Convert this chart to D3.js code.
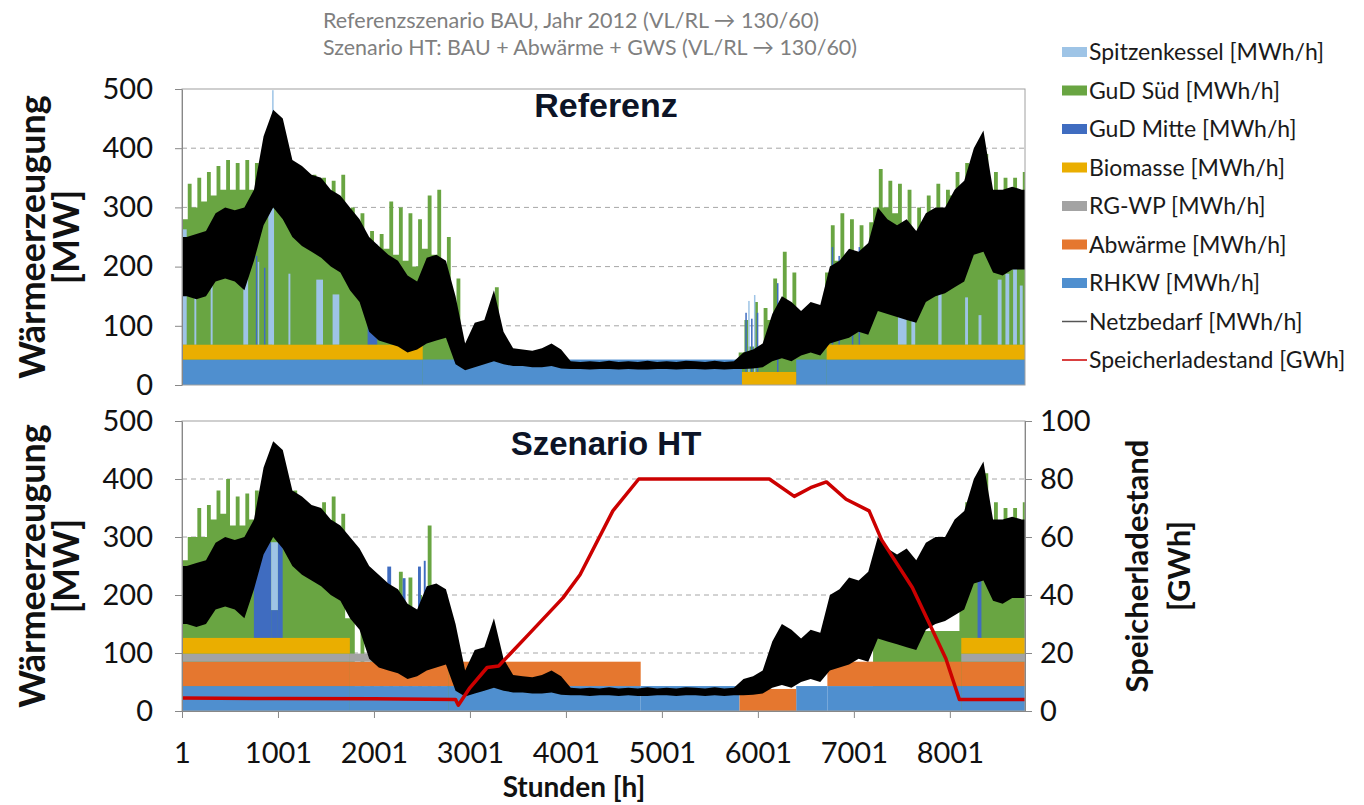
<!DOCTYPE html>
<html>
<head>
<meta charset="utf-8">
<script src="https://cdn.jsdelivr.net/npm/d3@7"></script>
<style>
  body { margin: 0; background: #fff; }
  svg text { font-family: Lato, "Open Sans", sans-serif; }
</style>
</head>
<body>
<svg id="chart" width="1364" height="805"></svg>
<script>
// hours of the year 2012, data read in 100 h windows (window i = hours 1+100i .. 100+100i)
const H_MAX = 8784;
const STEP = 100;

// Netzbedarf, lower / upper edge of the hourly band per window [MW]
const demandLo = [
  150,145,150,175,180,175,160,210,270,300,
  280,250,235,225,215,200,190,160,140,90,
  75,70,65,55,60,70,75,80,35,25,
  30,35,40,35,32,32,30,30,32,28,
  27,27,26,27,27,26,27,26,26,27,
  27,26,27,27,26,27,26,27,27,28,
  30,40,45,40,50,55,50,70,75,80,
  90,85,125,120,115,110,105,140,150,155,
  165,175,220,225,190,185,195,195];
const demandHi = [
  250,255,260,290,300,295,300,330,420,465,
  450,380,370,355,350,330,320,300,280,250,
  235,220,210,185,175,215,220,210,150,70,
  105,110,160,90,62,60,58,62,70,60,
  40,39,40,39,41,39,40,39,41,39,
  40,39,41,40,39,41,39,40,55,60,
  70,120,150,140,125,140,135,200,210,230,
  225,240,300,280,270,280,260,290,300,300,
  330,345,400,430,330,330,335,330];

// Referenz: total generation (top of GuD Süd), typical level and peak per window [MW]
const refTotMid = [
  280,300,310,320,330,330,330,330,340,350,
  340,320,310,300,300,290,280,230,220,200,
  200,230,220,210,200,230,220,180,100,50,
  55,60,75,40,0,0,0,0,0,0,
  0,0,0,0,0,0,0,0,0,0,
  0,0,0,0,0,0,0,0,55,65,
  64,110,120,110,60,60,60,190,210,200,
  200,210,300,300,290,270,250,270,290,280,
  320,330,330,330,310,300,300,300];
const refTotHi = [
  340,350,360,370,380,375,380,375,380,400,
  380,370,360,355,350,345,355,300,290,260,
  255,310,300,290,280,320,330,250,180,70,
  100,110,165,60,0,0,0,0,0,0,
  0,0,0,0,0,0,0,0,0,0,
  0,0,0,0,0,0,0,0,110,140,
  130,180,225,190,100,110,100,270,290,280,
  270,275,365,345,340,330,300,320,340,330,
  360,375,380,390,360,350,350,360];

// Szenario HT: total generation, typical level and peak per window [MW]
const htTotMid = [
  260,300,300,330,340,320,320,330,340,360,
  340,330,310,300,300,300,280,160,0,0,
  0,0,0,0,0,0,0,0,0,0,
  0,0,0,0,0,0,0,0,0,0,
  0,0,0,0,0,0,0,0,0,0,
  0,0,0,0,0,0,0,0,0,0,
  0,0,0,0,0,0,0,0,0,0,
  0,0,138,138,138,138,138,138,138,138,
  138,320,340,350,320,310,300,310];
const htTotHi = [
  300,350,355,380,400,370,375,380,400,420,
  400,380,360,350,360,370,340,250,180,150,
  140,170,240,230,200,320,200,150,0,0,
  0,0,0,0,0,0,0,0,0,0,
  0,0,0,0,0,0,0,0,0,0,
  0,0,0,0,0,0,0,0,0,0,
  0,0,0,0,0,0,0,0,0,0,
  0,0,138,138,138,138,138,138,138,138,
  138,360,400,410,360,350,350,360];

// constant blocks [from hour, to hour, MW]
const refRHKW     = [[1, 5835, 43], [6400, 8784, 43]];
const refBiomasse = [[1, 2509, 25], [5835, 6400, 22], [6718, 8784, 25]];
const htRHKW      = [[1, 5810, 43], [6400, 8784, 43]];
const htAbwaerme  = [[1, 4780, 42], [5810, 6400, 38], [6725, 8784, 42]];
const htRGWP      = [[1, 2780, 14], [8120, 8784, 14]];
const htBiomasse  = [[1, 1750, 27], [8120, 8784, 27]];

// short runs of GuD Mitte and Spitzenkessel [from hour, to hour, MW]
const refMitte = [[770,785,150],[855,870,130],[1935,2035,170],[5870,5880,100],[5930,5940,90],
                  [5990,6000,100],[6200,6215,150],[6770,6785,165],[6840,6855,150],[6980,6995,130],
                  [7050,7065,165]];
const refSpitzen = [[1,50,195],[130,150,130],[300,320,110],[640,690,170],[790,805,140],[900,960,230],
                    [940,955,430],[1110,1130,120],[1400,1470,110],[1570,1640,85],[2380,2400,60],
                    [5900,5915,120],[5960,5975,130],[7460,7550,110],[7600,7640,90],[7880,7915,110],
                    [8160,8190,80],[8300,8330,50],[8500,8540,110],[8580,8620,120],[8660,8700,130],
                    [8730,8760,100]];
const htMitte = [[750,930,165],[930,1000,48],[1000,1050,165],[2140,2180,150],[2300,2330,130],
                 [2460,2490,150],[2520,2540,160],[8290,8330,140]];
const htSpitzen = [[930,1000,117]];

// Speicherladestand [GWh]
const storageHour = [1,1000,2000,2850,2880,3000,3180,3300,3600,3970,4148,4490,4760,
                     6120,6380,6550,6715,6920,7160,7290,7610,7790,7960,8100,8784];
const storageGWh  = [4.5,4.3,4.2,4.0,2.0,8,15,15.5,26,39,47,69,80,
                     80,74,77,79,73,69,59,42.6,30,18,4,4];

const hourTicks = [1,1001,2001,3001,4001,5001,6001,7001,8001];

const C = {
  spitzen: '#9ec4e6', sued: '#69a542', mitte: '#3f6cc0', bio: '#eaae00',
  rgwp: '#a3a3a3', abw: '#e5772f', rhkw: '#4f8fcf', demand: '#000', storage: '#cc0000'
};

const legendItems = [
  { label: 'Spitzenkessel [MWh/h]', color: C.spitzen },
  { label: 'GuD Süd [MWh/h]', color: C.sued },
  { label: 'GuD Mitte [MWh/h]', color: C.mitte },
  { label: 'Biomasse [MWh/h]', color: C.bio },
  { label: 'RG-WP [MWh/h]', color: C.rgwp },
  { label: 'Abwärme [MWh/h]', color: C.abw },
  { label: 'RHKW [MWh/h]', color: C.rhkw },
  { label: 'Netzbedarf [MWh/h]', color: '#555', line: true },
  { label: 'Speicherladestand [GWh]', color: C.storage, line: true }
];

const svg = d3.select('#chart');
const x = d3.scaleLinear().domain([1, H_MAX]).range([182, 1025]);

function segValue(segs, h) {
  const s = segs.find(s => h >= s[0] && h < s[1]);
  return s ? s[2] : 0;
}

// two steps per window: typical level, then the peak
function comb(mid, hi) {
  const pts = [];
  mid.forEach((m, i) => {
    const h = 1 + i * STEP;
    pts.push({ h: h, v: m });
    pts.push({ h: h + 60, v: hi[i] });
  });
  pts.push({ h: H_MAX, v: mid[mid.length - 1] });
  return pts;
}

function drawPanel(cfg) {
  const y = cfg.y;
  const g = svg.append('g');
  const x0 = x.range()[0], x1 = x.range()[1];

  svg.append('clipPath').attr('id', 'clip-' + cfg.id)
    .append('rect').attr('x', x0).attr('y', y(500)).attr('width', x1 - x0).attr('height', y(0) - y(500));

  g.selectAll('line.grid').data([100, 200, 300, 400]).join('line')
    .attr('x1', x0).attr('x2', x1).attr('y1', d => y(d)).attr('y2', d => y(d))
    .attr('stroke', '#a6a6a6').attr('stroke-dasharray', '5,4');

  const plot = g.append('g').attr('clip-path', `url(#clip-${cfg.id})`);

  // GuD Süd (top of the stack above the fixed blocks)
  plot.append('path').datum(comb(cfg.totMid, cfg.totHi))
    .attr('fill', C.sued)
    .attr('d', d3.area().curve(d3.curveStepAfter)
      .x(d => x(d.h)).y0(y(0)).y1(d => y(d.v)));

  const baseAt = h => d3.sum(cfg.bands, b => segValue(b.segs, h));

  plot.selectAll('rect.mitte').data(cfg.mitte).join('rect')
    .attr('x', d => x(d[0])).attr('width', d => Math.max(1.5, x(d[1]) - x(d[0])))
    .attr('y', d => y(baseAt(d[0]) + d[2])).attr('height', d => y(0) - y(d[2]))
    .attr('fill', C.mitte);

  plot.selectAll('rect.spitzen').data(cfg.spitzen).join('rect')
    .attr('x', d => x(d[0])).attr('width', d => Math.max(1.5, x(d[1]) - x(d[0])))
    .attr('y', d => y(baseAt(d[0]) + segValue(cfg.mitte, d[0]) + d[2]))
    .attr('height', d => y(0) - y(d[2]))
    .attr('fill', C.spitzen);

  // fixed blocks, stacked
  const cuts = Array.from(new Set(cfg.bands.flatMap(b => b.segs.flatMap(s => [s[0], s[1]])).concat([1, H_MAX])))
    .sort((a, b) => a - b);
  const rows = cuts.slice(0, -1).map((h, i) => {
    const r = { h0: h, h1: cuts[i + 1] };
    cfg.bands.forEach(b => { r[b.key] = segValue(b.segs, h); });
    return r;
  });
  const stacked = d3.stack().keys(cfg.bands.map(b => b.key))(rows);
  plot.selectAll('g.band').data(stacked).join('g')
    .attr('fill', (d, i) => cfg.bands[i].color)
    .selectAll('rect').data(d => d.filter(p => p[1] > p[0])).join('rect')
    .attr('x', p => x(p.data.h0)).attr('width', p => x(p.data.h1) - x(p.data.h0))
    .attr('y', p => y(p[1])).attr('height', p => y(p[0]) - y(p[1]));

  // Netzbedarf: band between the low and high readings
  const dem = demandLo.map((lo, i) => ({ h: Math.min(H_MAX, 51 + i * STEP), lo: lo, hi: demandHi[i] }));
  dem.unshift({ h: 1, lo: demandLo[0], hi: demandHi[0] });
  dem.push({ h: H_MAX, lo: demandLo[demandLo.length - 1], hi: demandHi[demandHi.length - 1] });
  plot.append('path').datum(dem)
    .attr('fill', C.demand)
    .attr('d', d3.area().x(d => x(d.h)).y0(d => y(d.lo)).y1(d => y(d.hi)));

  // frame
  g.append('rect').attr('x', x0).attr('y', y(500)).attr('width', x1 - x0).attr('height', y(0) - y(500))
    .attr('fill', 'none').attr('stroke', '#a0a0a0');

  const ax = g.append('g').attr('transform', `translate(${x0},0)`)
    .call(d3.axisLeft(y).tickValues([0, 100, 200, 300, 400, 500]).tickSizeInner(7).tickSizeOuter(0).tickPadding(22));
  ax.select('.domain').attr('stroke', '#888');
  ax.selectAll('.tick line').attr('stroke', '#888');
  ax.selectAll('text').style('font-size', '29px').attr('fill', '#111');

  g.append('text').attr('x', 606).attr('y', cfg.titleY).attr('text-anchor', 'middle')
    .style('font-family', '"Liberation Sans", Arial, sans-serif').style('font-weight', 'bold')
    .style('font-size', cfg.titleSize).attr('fill', '#0c1427').text(cfg.title);

  const cy = (y(0) + y(500)) / 2;
  g.append('text').attr('transform', `translate(45,${cy}) rotate(-90)`)
    .attr('text-anchor', 'middle').style('font-weight', 'bold').style('font-size', '36px').attr('fill', '#111')
    .text('Wärmeerzeugung');
  g.append('text').attr('transform', `translate(79,${cy}) rotate(-90)`)
    .attr('text-anchor', 'middle').style('font-weight', 'bold').style('font-size', '36px').attr('fill', '#111')
    .text('[MW]');

  return { g, plot };
}

const yTop = d3.scaleLinear().domain([0, 500]).range([385, 89]);
const yBot = d3.scaleLinear().domain([0, 500]).range([711, 421]);
const yRight = d3.scaleLinear().domain([0, 100]).range([711, 421]);

drawPanel({
  id: 'ref', y: yTop, title: 'Referenz', titleY: 117, titleSize: '34px',
  totMid: refTotMid, totHi: refTotHi, mitte: refMitte, spitzen: refSpitzen,
  bands: [
    { key: 'rhkw', segs: refRHKW, color: C.rhkw },
    { key: 'bio', segs: refBiomasse, color: C.bio }
  ]
});

const bottom = drawPanel({
  id: 'ht', y: yBot, title: 'Szenario HT', titleY: 455, titleSize: '33px',
  totMid: htTotMid, totHi: htTotHi, mitte: htMitte, spitzen: htSpitzen,
  bands: [
    { key: 'rhkw', segs: htRHKW, color: C.rhkw },
    { key: 'abw', segs: htAbwaerme, color: C.abw },
    { key: 'rgwp', segs: htRGWP, color: C.rgwp },
    { key: 'bio', segs: htBiomasse, color: C.bio }
  ]
});

// storage level on right axis
bottom.plot.append('path')
  .datum(storageHour.map((h, i) => [h, storageGWh[i]]))
  .attr('fill', 'none').attr('stroke', C.storage).attr('stroke-width', 3.5).attr('stroke-linejoin', 'round')
  .attr('d', d3.line().x(d => x(d[0])).y(d => yRight(d[1])));

const axR = svg.append('g').attr('transform', `translate(${x.range()[1]},0)`)
  .call(d3.axisRight(yRight).tickValues([0, 20, 40, 60, 80, 100]).tickSizeInner(7).tickSizeOuter(0).tickPadding(8));
axR.select('.domain').attr('stroke', '#888');
axR.selectAll('.tick line').attr('stroke', '#888');
axR.selectAll('text').style('font-size', '29px').attr('fill', '#111');

const axB = svg.append('g').attr('transform', `translate(0,${yBot(0)})`)
  .call(d3.axisBottom(x).tickValues(hourTicks).tickFormat(d3.format('d')).tickSizeInner(7).tickSizeOuter(0).tickPadding(24));
axB.select('.domain').attr('stroke', '#888');
axB.selectAll('.tick line').attr('stroke', '#888');
axB.selectAll('text').style('font-size', '29px').attr('fill', '#111');

svg.append('text').attr('x', 574).attr('y', 797).attr('text-anchor', 'middle')
  .style('font-weight', 'bold').style('font-size', '28px').attr('fill', '#111').text('Stunden [h]');

const cyR = (yRight(0) + yRight(100)) / 2;
svg.append('text').attr('transform', `translate(1148,${cyR}) rotate(-90)`).attr('text-anchor', 'middle')
  .style('font-weight', 'bold').style('font-size', '31px').attr('fill', '#111').text('Speicherladestand');
svg.append('text').attr('transform', `translate(1190,${cyR}) rotate(-90)`).attr('text-anchor', 'middle')
  .style('font-weight', 'bold').style('font-size', '31px').attr('fill', '#111').text('[GWh]');

// header
const head = svg.append('g').style('font-family', '"Liberation Sans", Arial, sans-serif')
  .style('font-size', '22px').attr('fill', '#7f7f7f');
head.append('text').attr('x', 323).attr('y', 28).attr('textLength', 496).attr('lengthAdjust', 'spacingAndGlyphs')
  .text('Referenzszenario BAU, Jahr 2012 (VL/RL → 130/60)');
head.append('text').attr('x', 323).attr('y', 55).attr('textLength', 534).attr('lengthAdjust', 'spacingAndGlyphs')
  .text('Szenario HT: BAU + Abwärme + GWS (VL/RL → 130/60)');

// legend
const leg = svg.append('g').selectAll('g').data(legendItems).join('g')
  .attr('transform', (d, i) => `translate(1062,${52 + i * 38.5})`);
leg.filter(d => !d.line).append('rect').attr('x', 0).attr('y', -5).attr('width', 25).attr('height', 10).attr('fill', d => d.color);
leg.filter(d => d.line).append('line').attr('x1', 0).attr('x2', 25).attr('y1', 0).attr('y2', 0)
  .attr('stroke', d => d.color).attr('stroke-width', 1.5);
leg.append('text').attr('x', 27).attr('dy', '0.35em').style('font-size', '23px').attr('fill', '#1a1a1a').text(d => d.label);
</script>
</body>
</html>
